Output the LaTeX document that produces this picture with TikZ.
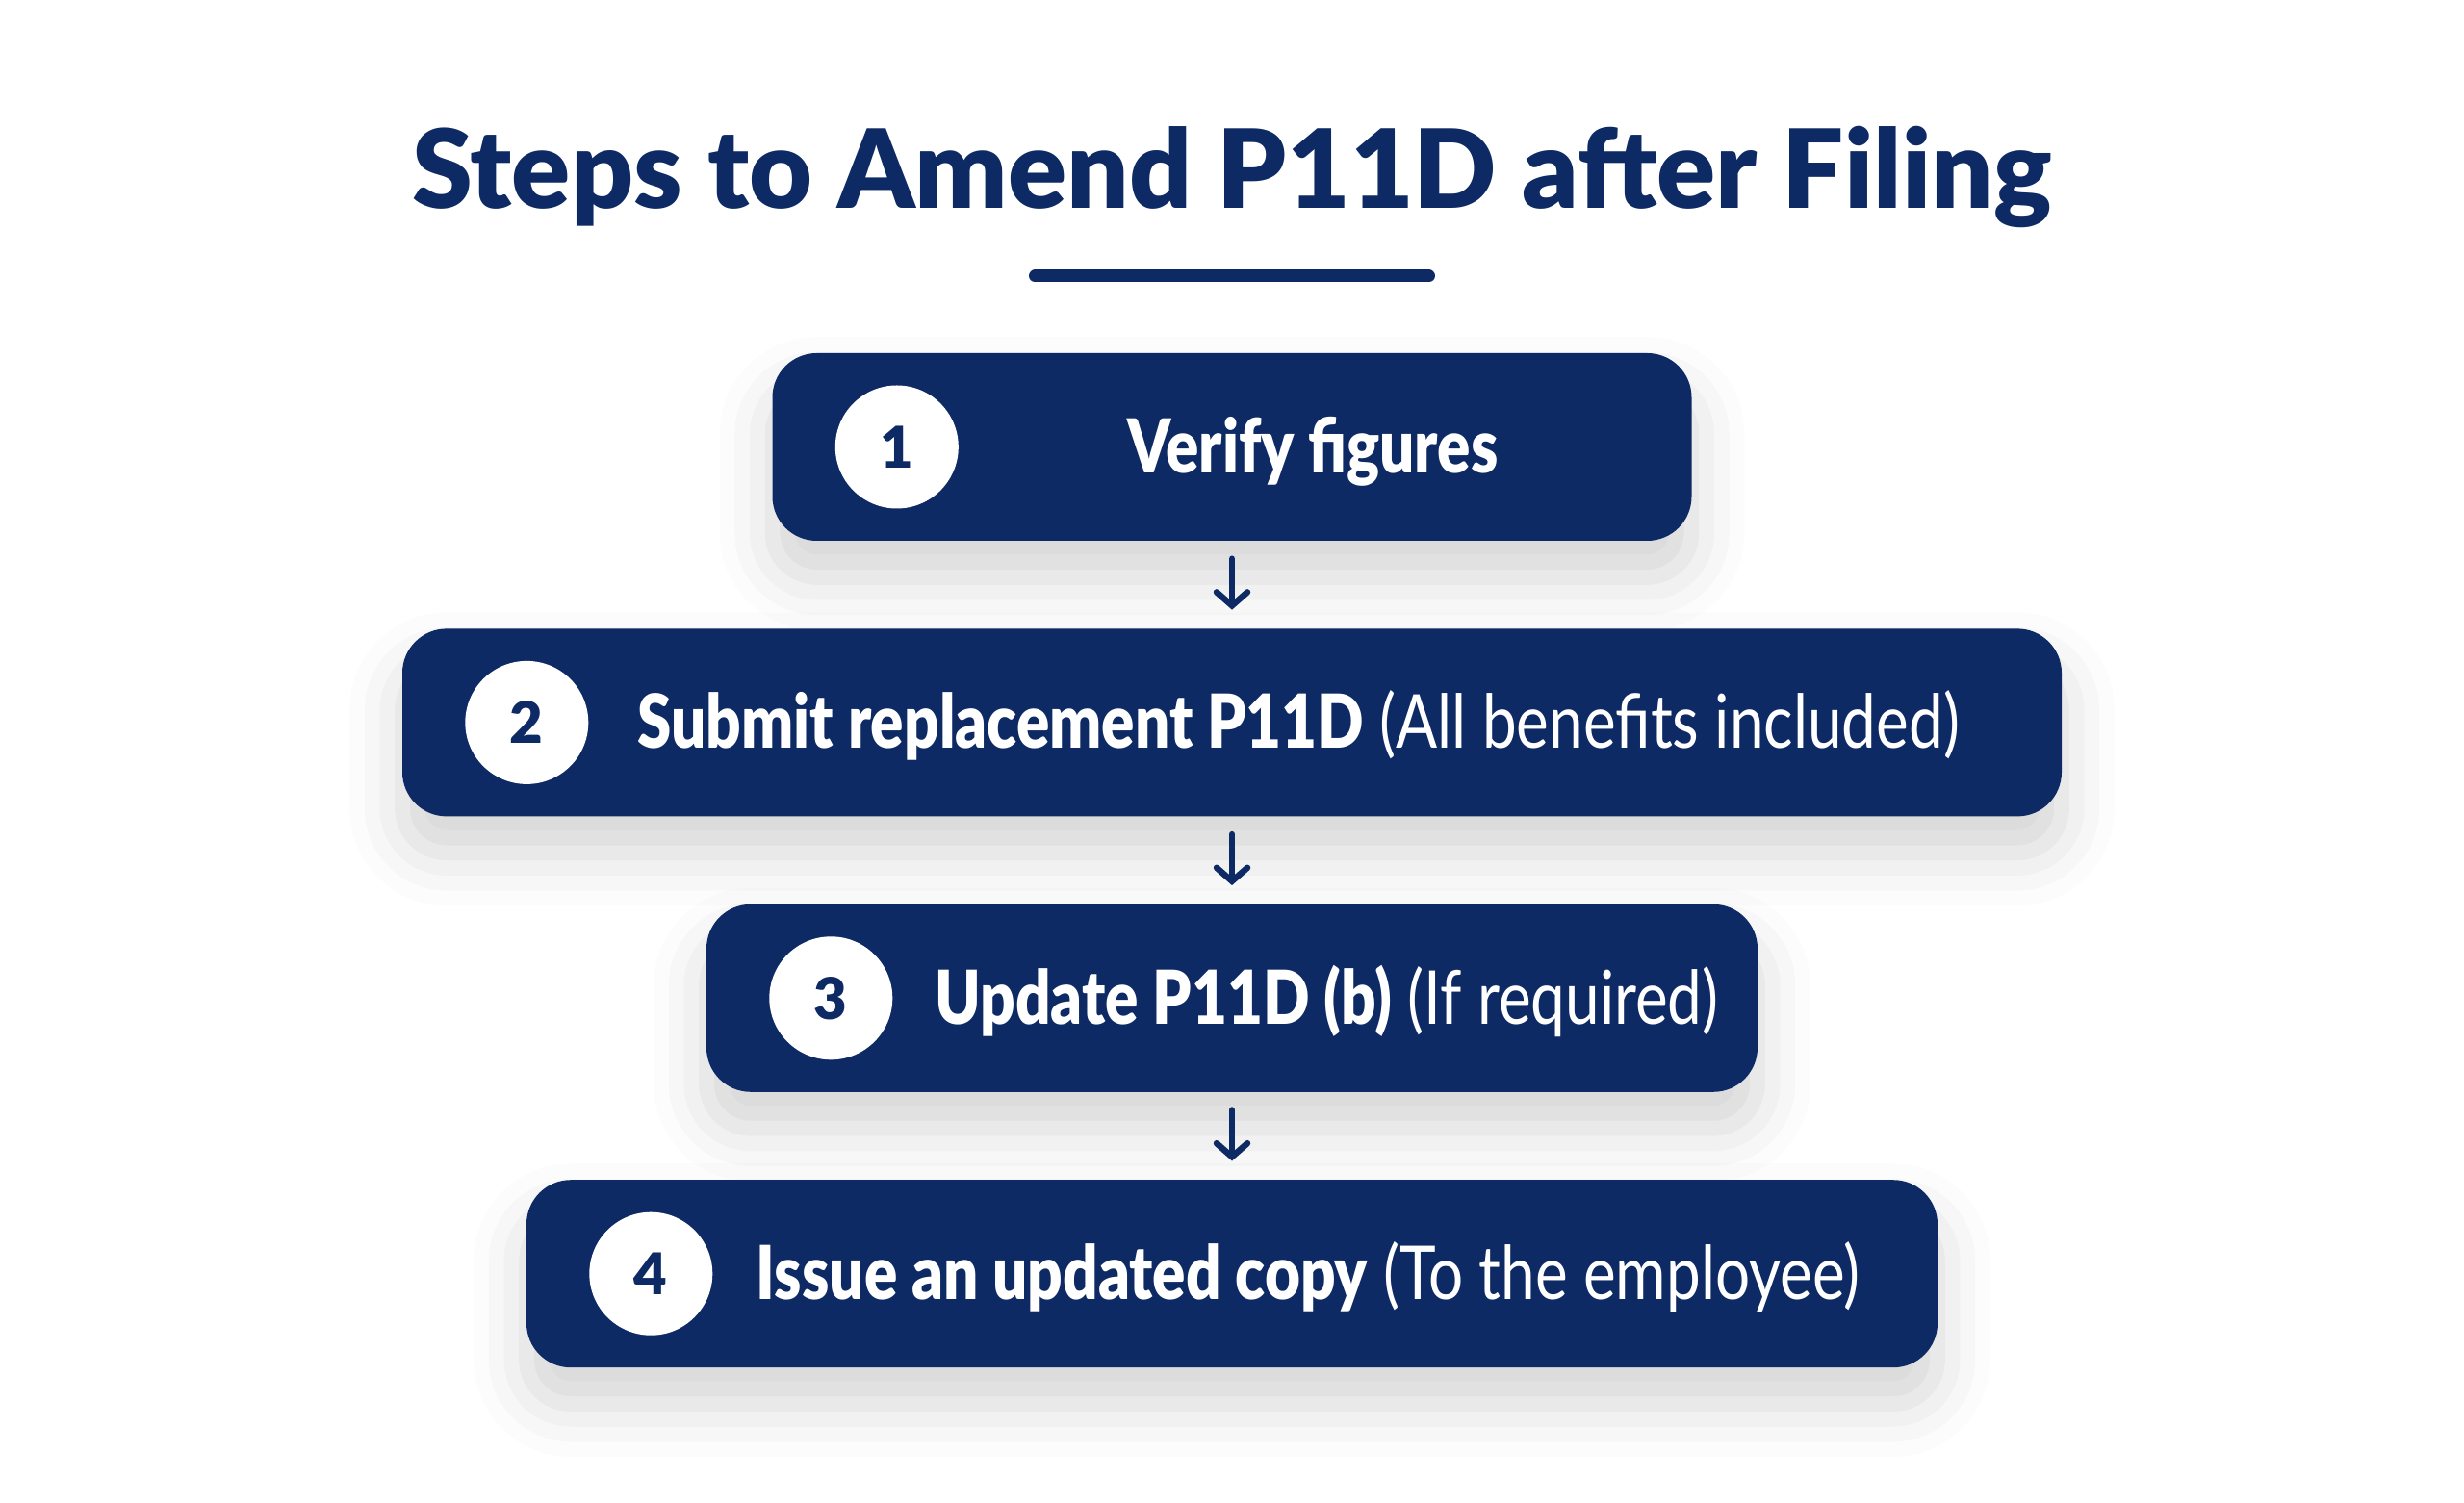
\documentclass[tikz,border=0pt]{standalone}
\usepackage{fontspec}
\setmainfont{Lato}
\newfontfamily\heavy{Lato Black}
\usetikzlibrary{positioning,arrows.meta,shadows.blur}
\definecolor{navy}{HTML}{0E2A64}
% narrow the step texts to the condensed look of the original
\newcommand{\squeeze}[1]{\scalebox{0.825}[1]{#1}}

\begin{document}
\begin{tikzpicture}[font=\fontsize{22}{26}\selectfont]

    % Styles for boxes, number badges, labels and arrows
    \tikzset{
      stepbox/.style={fill=navy, rounded corners=0.46cm, minimum height=1.95cm, inner sep=0pt,
        blur shadow={shadow xshift=0cm, shadow yshift=-0.38cm, shadow blur radius=0.55cm, shadow opacity=17}},
      badge/.style={circle, fill=white, minimum size=1.28cm, inner sep=0pt, text=navy,
        font=\fontsize{17}{20}\selectfont\heavy},
      lbl/.style={text=white, anchor=base west, inner sep=0pt},
      flow/.style={draw=navy, line width=0.065cm, line cap=round,
        -{Straight Barb[length=0.14cm, width=0.32cm, line cap=round]},
        shorten <=0.18cm, shorten >=0.19cm}
    }

    % Vertical gap between boxes and shift from badge centre to text baseline
    \def\boxgap{0.9cm}
    \def\capshift{-0.27cm}

    \useasboundingbox (0,0) rectangle (25.6,15.61);

    % --- Title ---
    \node[text=navy, anchor=base, inner sep=0pt, font=\fontsize{32.3}{38}\selectfont\heavy]
      (title) at (12.8,13.44) {Steps to Amend P11D after Filing};
    \draw[navy, line width=0.13cm, line cap=round]
      ([xshift=-2.045cm, yshift=-0.70cm]title.base) -- ([xshift=2.045cm, yshift=-0.70cm]title.base);

    % --- Step boxes ---
    \node[stepbox, minimum width=9.55cm] (step1) at (12.8,10.965) {};
    \node[stepbox, minimum width=17.24cm, below=\boxgap of step1] (step2) {};
    \node[stepbox, minimum width=10.92cm, below=\boxgap of step2] (step3) {};
    \node[stepbox, minimum width=14.66cm, below=\boxgap of step3] (step4) {};

    % --- Number badges ---
    \foreach \i in {1,...,4}
      \node[badge] (num\i) at ([xshift=1.3cm]step\i.west) {\i};

    % --- Labels ---
    \node[lbl] (lbl1) at ([xshift=1.74cm, yshift=\capshift]num1.east) {\squeeze{{\heavy Verify figures}}};
    \node[lbl] (lbl2) at ([xshift=0.5cm, yshift=\capshift]num2.east)
      {\squeeze{{\heavy Submit replacement P11D} (All benefits included)}};
    \node[lbl] (lbl3) at ([xshift=0.43cm, yshift=\capshift]num3.east)
      {\squeeze{{\heavy Update P11D (b)} (If required)}};
    \node[lbl] (lbl4) at ([xshift=0.44cm, yshift=\capshift]num4.east)
      {\squeeze{{\heavy Issue an updated copy} (To the employee)}};

    % --- Arrows between steps ---
    \draw[flow] (step1) -- (step2);
    \draw[flow] (step2) -- (step3);
    \draw[flow] (step3) -- (step4);
\end{tikzpicture}
\end{document}
